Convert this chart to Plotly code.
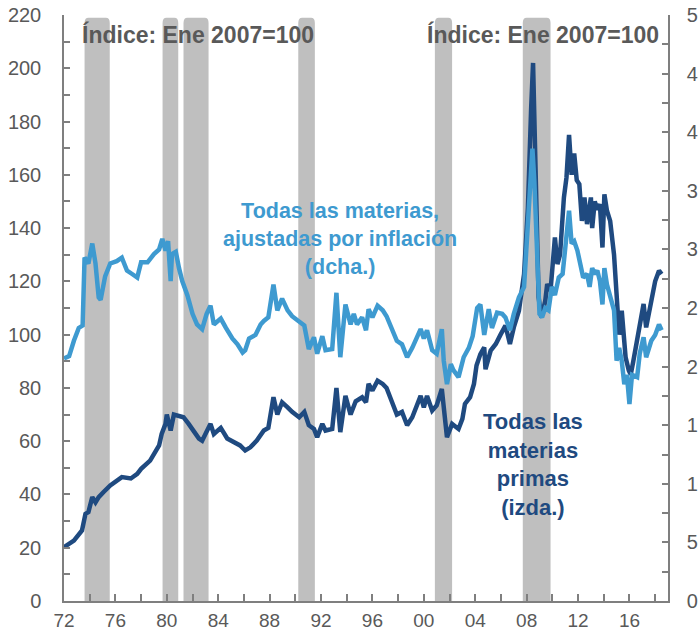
import plotly.graph_objects as go

# ---------------- data ----------------
dark_years = [1972.0, 1972.77, 1973.4, 1973.67, 1973.9, 1974.2, 1974.45, 1974.7, 1975.1, 1975.6,
              1976.5, 1977.2, 1977.7, 1978.0, 1978.7, 1979.0, 1979.4, 1979.6, 1979.9, 1980.0,
              1980.3, 1980.55, 1980.8, 1981.3, 1981.7, 1982.1, 1982.5, 1982.75, 1983.1, 1983.4,
              1983.66, 1984.2, 1984.7, 1985.2, 1985.7, 1986.1, 1986.5, 1987.0, 1987.3, 1987.55,
              1987.9, 1988.3, 1988.6, 1988.97, 1989.4, 1989.75, 1990.3, 1990.7, 1991.05, 1991.45,
              1991.7, 1992.1, 1992.35, 1992.87, 1993.2, 1993.5, 1993.9, 1994.3, 1994.7, 1995.2,
              1995.5, 1995.7, 1996.0, 1996.4, 1996.8, 1997.1, 1997.5, 1997.9, 1998.3, 1998.7,
              1999.1, 1999.5, 1999.75, 2000.0, 2000.25, 2000.65, 2001.0, 2001.4, 2001.55, 2001.8,
              2002.2, 2002.7, 2003.0, 2003.2, 2003.6, 2003.9, 2004.1, 2004.4, 2004.7, 2004.8,
              2005.2, 2005.6, 2005.97, 2006.35, 2006.7, 2007.0, 2007.4, 2007.6, 2007.8, 2008.1,
              2008.25, 2008.35, 2008.5, 2008.6, 2008.76, 2008.93, 2009.15, 2009.45, 2009.6, 2009.86,
              2010.2, 2010.4, 2010.6, 2010.9, 2011.1, 2011.3, 2011.5, 2011.7, 2011.9, 2012.1,
              2012.3, 2012.5, 2012.7, 2013.0, 2013.1, 2013.3, 2013.5, 2013.7, 2013.9, 2014.05,
              2014.25, 2014.5, 2014.8, 2015.05, 2015.2, 2015.4, 2015.7, 2015.95, 2016.1, 2016.3,
              2016.7, 2017.1, 2017.3, 2017.7, 2018.0, 2018.3, 2018.5]
dark_values = [20.2, 22.7, 26.5, 32.7, 33.4, 39, 37, 39, 41, 43.4,
               46.5, 46, 47.7, 49.6, 52.7, 55, 58.4, 62.7, 66.5, 70,
               64, 70, 69.6, 69, 66.5, 64, 61, 60.2, 64, 66.5,
               62.7, 65, 61, 59.6, 58.4, 56.5, 57.7, 60.2, 62.7, 64,
               65, 76.5, 70, 74.6, 72.7, 71, 69, 71, 66, 64.6,
               61.5, 66.5, 64, 64.6, 80, 63.4, 77, 70, 75, 76.5,
               74.6, 81.5, 79, 82.7, 81.5, 80, 75, 70, 71, 66,
               69, 74, 77, 72.7, 77, 71.5, 73.4, 79.6, 71, 61.5,
               66.5, 64.6, 68.4, 74, 76.5, 81.5, 88.4, 92.7, 95.2, 87,
               94, 96.5, 100, 103.4, 96.5, 102.7, 109, 117.7, 122.7, 147.7,
               179, 185, 202, 179, 154, 114, 106.5, 112.7, 119, 116.5,
               136.5, 126.5, 130, 151.5, 159, 175, 160, 168, 158, 156.5,
               142.7, 151.5, 141.5, 151.5, 140, 150, 147, 149, 132.7, 152.7,
               146.5, 142.7, 130, 110, 100, 109, 91.5, 86.5, 85, 90,
               100, 111.5, 102.7, 114, 120, 124, 122.7]

light_years = [1972.0, 1972.4, 1972.77, 1973.15, 1973.45, 1973.6, 1973.9, 1974.2, 1974.45, 1974.7,
               1974.85, 1975.2, 1975.6, 1976.1, 1976.5, 1976.9, 1977.3, 1977.7, 1978.0, 1978.5,
               1979.0, 1979.4, 1979.65, 1979.9, 1980.1, 1980.3, 1980.4, 1980.7, 1980.95, 1981.2,
               1981.6, 1982.0, 1982.35, 1982.75, 1983.1, 1983.4, 1983.66, 1984.2, 1984.6, 1985.1,
               1985.5, 1985.9, 1986.1, 1986.4, 1986.9, 1987.3, 1987.55, 1987.9, 1988.3, 1988.6,
               1988.97, 1989.4, 1989.75, 1990.3, 1990.7, 1991.05, 1991.45, 1991.7, 1992.1, 1992.35,
               1992.87, 1993.2, 1993.5, 1993.9, 1994.3, 1994.55, 1994.8, 1995.2, 1995.5, 1995.7,
               1996.0, 1996.4, 1996.8, 1997.1, 1997.5, 1997.9, 1998.3, 1998.7, 1999.1, 1999.5,
               1999.75, 2000.0, 2000.25, 2000.65, 2001.0, 2001.4, 2001.55, 2001.8, 2002.1, 2002.3,
               2002.7, 2003.1, 2003.5, 2003.8, 2004.15, 2004.4, 2004.7, 2005.05, 2005.3, 2005.7,
               2006.1, 2006.35, 2006.7, 2007.0, 2007.4, 2007.8, 2008.1, 2008.3, 2008.45, 2008.6,
               2008.8, 2009.0, 2009.2, 2009.45, 2009.7, 2009.96, 2010.2, 2010.5, 2010.8, 2011.1,
               2011.3, 2011.5, 2011.7, 2011.95, 2012.2, 2012.4, 2012.7, 2012.9, 2013.1, 2013.3,
               2013.5, 2013.7, 2013.9, 2014.05, 2014.25, 2014.5, 2014.8, 2015.0, 2015.2, 2015.4,
               2015.6, 2015.8, 2016.0, 2016.2, 2016.6, 2016.8, 2017.1, 2017.3, 2017.7, 2018.0,
               2018.3, 2018.5]
light_values = [207, 209, 222, 233, 235, 293, 288, 305, 288, 259,
                257, 277, 288, 290, 293, 282, 279, 276, 289, 289,
                296, 300, 309, 299, 307, 273, 296, 298, 284, 273,
                261, 245, 236, 232, 245, 252, 236, 241, 233, 224,
                219, 212, 214, 224, 227, 236, 239, 242, 270, 248,
                258, 248, 243, 239, 235, 215, 225, 211, 226, 214,
                215, 263, 208, 253, 236, 245, 236, 242, 231, 249,
                242, 252, 248, 243, 233, 222, 219, 208, 216, 225,
                232, 224, 231, 214, 211, 232, 205, 185, 202, 197,
                191, 208, 216, 226, 250, 253, 227, 249, 233, 246,
                245, 242, 231, 245, 259, 268, 322, 364, 386, 358,
                307, 245, 242, 250, 248, 268, 261, 276, 279, 307,
                333, 305, 307, 299, 284, 276, 279, 268, 284, 279,
                282, 273, 253, 284, 270, 261, 248, 205, 216, 205,
                185, 193, 168, 193, 191, 211, 225, 208, 222, 227,
                236, 231]

# recession periods (start, end) in years
rec_start = [1973.6, 1979.67, 1981.3, 1990.23, 2000.86, 2007.7]
rec_end = [1975.56, 1980.89, 1983.25, 1991.52, 2002.2, 2009.86]

x_tickvals = [1972, 1976, 1980, 1984, 1988, 1992, 1996, 2000, 2004, 2008, 2012, 2016]
x_ticktext = ["72", "76", "80", "84", "88", "92", "96", "00", "04", "08", "12", "16"]

# ---------------- styling ----------------
DARK = "#1F4A80"
LIGHT = "#3E9AD0"
GREY_TXT = "#595959"
AXIS = "#7F7F7F"
BAR = "#BFBFBF"
FONT = "Liberation Sans, Arial, sans-serif"

fig = go.Figure()

fig.add_trace(go.Scatter(x=light_years, y=light_values, mode="lines", yaxis="y2",
                         line=dict(color=LIGHT, width=4.5),
                         name="Todas las materias, ajustadas por inflación (dcha.)"))
fig.add_trace(go.Scatter(x=dark_years, y=dark_values, mode="lines", yaxis="y",
                         line=dict(color=DARK, width=4.5), name="Todas las materias primas (izda.)"))

# recession bars with rounded tops
top = 219.0
rx = 0.3
ry = 2.0
for a, b in zip(rec_start, rec_end):
    path = (f"M {a},0 L {a},{top - ry} Q {a},{top} {a + rx},{top} "
            f"L {b - rx},{top} Q {b},{top} {b},{top - ry} L {b},0 Z")
    fig.add_shape(type="path", path=path, xref="x", yref="y",
                  fillcolor=BAR, line=dict(width=0), layer="below")

fig.update_layout(
    width=698, height=630,
    margin=dict(l=64, r=30, t=15, b=29, autoexpand=False),
    paper_bgcolor="white", plot_bgcolor="white",
    showlegend=False,
    font=dict(family=FONT, color=GREY_TXT, size=19),
    xaxis=dict(range=[1972, 2019], tickmode="array", tickvals=x_tickvals, ticktext=x_ticktext,
               ticks="inside", ticklen=7, tickcolor=AXIS, tickwidth=1.5,
               minor=dict(tickmode="linear", tick0=1972, dtick=2, ticks="inside", ticklen=7,
                          tickcolor=AXIS, tickwidth=1.5),
               showline=True, linecolor=AXIS, linewidth=1.5, showgrid=False, zeroline=False,
               tickfont=dict(size=19, color=GREY_TXT), ticklabelstandoff=1, automargin=False),
    yaxis=dict(range=[0, 220], dtick=20, tick0=0, ticks="inside", ticklen=6, tickcolor=AXIS,
               tickwidth=1.5,
               minor=dict(dtick=10, tick0=0, ticks="inside", ticklen=6, tickcolor=AXIS, tickwidth=1.5),
               showline=True, linecolor=AXIS, linewidth=1.5, showgrid=False, zeroline=False,
               tickfont=dict(size=20, color=GREY_TXT), ticklabelstandoff=17, automargin=False),
    yaxis2=dict(range=[0, 500], dtick=50, tick0=0, overlaying="y", side="right",
                ticks="inside", ticklen=6, tickcolor=AXIS, tickwidth=1.5,
                minor=dict(dtick=25, tick0=0, ticks="inside", ticklen=6, tickcolor=AXIS, tickwidth=1.5),
                showline=True, linecolor=AXIS, linewidth=1.5, showgrid=False, zeroline=False,
                tickfont=dict(size=20, color=GREY_TXT), ticklabelstandoff=13, automargin=False),
)

fig.add_annotation(text="<b>Índice: Ene 2007=100</b>", xref="paper", yref="paper",
                   x=0.026, y=0.966, xanchor="left", yanchor="middle", showarrow=False,
                   font=dict(size=23, color=GREY_TXT, family=FONT))
fig.add_annotation(text="<b>Índice: Ene 2007=100</b>", xref="paper", yref="paper",
                   x=0.988, y=0.966, xanchor="right", yanchor="middle", showarrow=False,
                   font=dict(size=23, color=GREY_TXT, family=FONT))
fig.add_annotation(text="<b>Todas las materias,<br>ajustadas por inflación<br>(dcha.)</b>",
                   xref="paper", yref="paper", x=0.457, y=0.6176, xanchor="center", yanchor="middle",
                   showarrow=False, align="center", font=dict(size=21.5, color=LIGHT, family=FONT))
fig.add_annotation(text="<b>Todas las<br>materias<br>primas<br>(izda.)</b>",
                   xref="paper", yref="paper", x=0.7765, y=0.2325, xanchor="center", yanchor="middle",
                   showarrow=False, align="center", font=dict(size=22, color=DARK, family=FONT))

fig.write_html("out.html", config={"displayModeBar": False},
               post_script="document.body.style.margin='0';document.body.style.padding='0';")
